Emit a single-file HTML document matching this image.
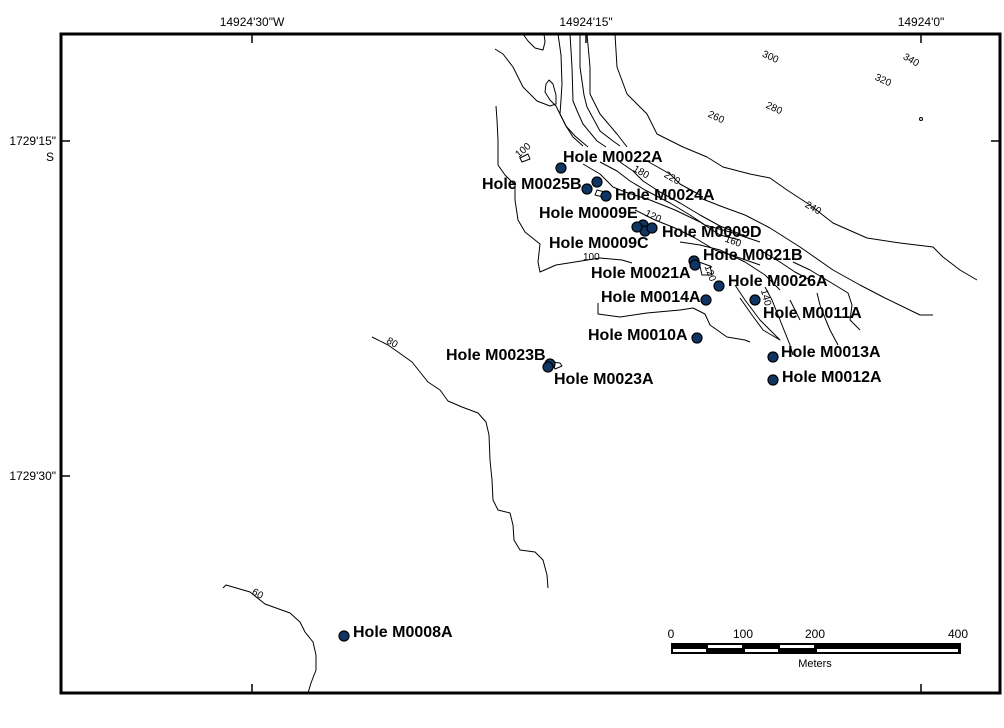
<!DOCTYPE html>
<html><head><meta charset="utf-8"><style>
html,body{margin:0;padding:0;background:#fff;}
svg{display:block;}
.ax{font-family:"Liberation Sans",sans-serif;font-size:12px;fill:#000;}
.lb{font-family:"Liberation Sans",sans-serif;font-size:16px;font-weight:bold;fill:#000;}
.cl{font-family:"Liberation Sans",sans-serif;font-size:10px;fill:#000;}
.c{fill:none;stroke:#000;stroke-width:1;stroke-linejoin:round;}
.d{fill:#0e3563;stroke:#000;stroke-width:1.2;}
</style></head><body>
<svg width="1004" height="728" viewBox="0 0 1004 728" xmlns="http://www.w3.org/2000/svg">
<rect width="1004" height="728" fill="#fff"/>
<rect x="61" y="34" width="939" height="659" fill="none" stroke="#000" stroke-width="3"/>
<line x1="252" y1="34" x2="252" y2="43" stroke="#000" stroke-width="1.5"/>
<line x1="586" y1="34" x2="586" y2="43" stroke="#000" stroke-width="1.5"/>
<line x1="921" y1="34" x2="921" y2="43" stroke="#000" stroke-width="1.5"/>
<line x1="252" y1="684" x2="252" y2="693" stroke="#000" stroke-width="1.5"/>
<line x1="921" y1="684" x2="921" y2="693" stroke="#000" stroke-width="1.5"/>
<line x1="61" y1="141" x2="70" y2="141" stroke="#000" stroke-width="1.5"/>
<line x1="61" y1="476" x2="70" y2="476" stroke="#000" stroke-width="1.5"/>
<line x1="991" y1="141" x2="1000" y2="141" stroke="#000" stroke-width="1.5"/>
<text class="ax" x="252" y="26" text-anchor="middle">14924'30"W</text>
<text class="ax" x="586" y="26" text-anchor="middle">14924'15"</text>
<text class="ax" x="921" y="26" text-anchor="middle">14924'0"</text>
<text class="ax" x="56" y="145" text-anchor="end">1729'15"</text>
<text class="ax" x="54" y="161" text-anchor="end">S</text>
<text class="ax" x="56" y="480" text-anchor="end">1729'30"</text>

<!-- contours -->
<polyline class="c" points="372,337 388,345 398,352 412,362 420,372 428,382 440,390 448,401 462,407 478,413 486,422 489,435 490,460 492,480 493,500 498,510 510,513 513,525 514,540 520,550 535,552 543,560 547,575 548,588"/>
<polyline class="c" points="223,588 226,585 250,592 265,604 290,613 300,622 305,632 313,642 316,655 316,670 311,683 308,693"/>
<!-- 100 left -->
<polyline class="c" points="496,106 497,120 498,140 498,165 505,175 515,185 515,200 518,220 525,232 540,244 538,262 540,272 556,265 575,262 600,258 622,260 632,263"/>
<!-- top U -->
<polyline class="c" points="523,34 528,41 535,48 543,50 545,42 544,34"/>
<!-- outer curve with notch -->
<polyline class="c" points="495,49 503,54 513,67 523,87 537,101 550,106 556,104 556,95 553,84 549,80 546,84 545,92 550,100 556,106 560,114 566,126 573,137 583,146"/>
<polyline class="c" points="558,34 561,55 562,84 561,100 560,114 566,126 575,136 588,147"/>
<polyline class="c" points="570,34 572,67 573,101 578,113 583,124 597,141 606,147"/>
<polyline class="c" points="580,34 580,67 584,95 587,107 600,131 613,141 620,146"/>
<polyline class="c" points="587,34 590,67 590,94 600,114 617,134 627,147"/>
<!-- 240 -->
<polyline class="c" points="615,34 617,67 627,94 647,114 657,134 683,147 707,157 723,167 750,174 770,178 787,190 810,205 833,223 867,238 900,243 933,247 943,257 960,270 977,280"/>
<!-- lower steep lines -->
<polyline class="c" points="583,164 600,174 613,187 625,192 650,200 675,210 700,222 720,235 740,240"/>
<polyline class="c" points="600,162 617,171 630,181 645,190 670,203 690,215 705,225 730,232 760,242"/>
<polyline class="c" points="620,162 633,171 643,181 660,192 680,203 700,215 720,226 745,236"/>
<polyline class="c" points="647,161 670,174 680,184 700,195"/>
<polyline class="c" points="635,210 655,220 675,228 695,238 715,250 740,258 760,265"/>
<polyline class="c" points="680,242 700,245 720,250 745,262 765,275 780,290"/>
<!-- 220 -->
<polyline class="c" points="700,198 723,207 745,215 770,228 800,247 833,270 860,285 883,297 920,315 933,315"/>
<!-- lower 100 -->
<polyline class="c" points="598,303 598,314 620,317 647,313 680,310 693,308 705,314 710,325 727,337 745,340 750,342"/>
<!-- lines near 26A/11A -->
<polyline class="c" points="735,285 745,300 760,320 770,330 780,340 763,330 752,315 740,298"/>
<polyline class="c" points="765,287 772,300 780,320 790,345 793,355"/>
<polyline class="c" points="790,300 795,310 800,320"/>
<polyline class="c" points="817,293 820,305 825,318 830,330 838,345"/>
<polyline class="c" points="793,262 810,270 830,282 848,293 852,305 850,320 860,330"/>
<polyline class="c" points="760,250 780,262 795,272 810,280"/>
<!-- small features -->
<polygon class="c" points="520,158 528,154 530,159 522,162"/>
<polygon class="c" points="597,190 605,192 603,197 595,195"/>
<polygon class="c" points="552,362 560,363 562,366 555,369"/>
<polygon class="c" points="699,262 710,266 712,275 702,275"/>
<circle cx="921" cy="119" r="1.5" class="c"/>

<g class="cl">
<text x="762" y="62" transform="rotate(25 775 58)">300</text>
<text x="875" y="84" transform="rotate(25 885 80)">320</text>
<text x="903" y="64" transform="rotate(30 913 60)">340</text>
<text x="766" y="112" transform="rotate(25 776 108)">280</text>
<text x="708" y="121" transform="rotate(25 718 117)">260</text>
<text x="664" y="182" transform="rotate(30 674 178)">220</text>
<text x="633" y="176" transform="rotate(30 643 172)">180</text>
<text x="645" y="220" transform="rotate(25 655 216)">120</text>
<text x="725" y="245" transform="rotate(20 735 241)">160</text>
<text x="805" y="212" transform="rotate(30 815 208)">240</text>
<text x="515" y="152" transform="rotate(-40 525 150)">100</text>
<text x="583" y="260">100</text>
<text x="761" y="298" transform="rotate(75 766 294)">140</text>
<text x="704" y="273" transform="rotate(70 709 270)">120</text>
<text x="387" y="346" transform="rotate(30 393 342)">80</text>
<text x="252" y="597" transform="rotate(30 258 594)">60</text>
</g>

<g>
<circle class="d" cx="561" cy="168" r="5"/>
<circle class="d" cx="597" cy="182" r="5"/>
<circle class="d" cx="587" cy="189" r="5"/>
<circle class="d" cx="606" cy="196" r="5"/>
<circle class="d" cx="643" cy="225" r="5"/>
<circle class="d" cx="645" cy="231" r="5"/>
<circle class="d" cx="637" cy="227" r="5"/>
<circle class="d" cx="652" cy="228" r="5"/>
<circle class="d" cx="694" cy="261" r="5"/>
<circle class="d" cx="695" cy="265" r="5"/>
<circle class="d" cx="719" cy="286" r="5"/>
<circle class="d" cx="706" cy="300" r="5"/>
<circle class="d" cx="755" cy="300" r="5"/>
<circle class="d" cx="697" cy="338" r="5"/>
<circle class="d" cx="773" cy="357" r="5"/>
<circle class="d" cx="773" cy="380" r="5"/>
<circle class="d" cx="550" cy="364" r="5"/>
<circle class="d" cx="548" cy="367" r="5"/>
<circle class="d" cx="344" cy="636" r="5"/>
</g>

<g class="lb">
<text x="563" y="162">Hole M0022A</text>
<text x="482" y="189">Hole M0025B</text>
<text x="615" y="200">Hole M0024A</text>
<text x="539" y="218">Hole M0009E</text>
<text x="662" y="237">Hole M0009D</text>
<text x="549" y="248">Hole M0009C</text>
<text x="703" y="260">Hole M0021B</text>
<text x="591" y="278">Hole M0021A</text>
<text x="728" y="286">Hole M0026A</text>
<text x="601" y="302">Hole M0014A</text>
<text x="763" y="318">Hole M0011A</text>
<text x="588" y="340">Hole M0010A</text>
<text x="781" y="357">Hole M0013A</text>
<text x="782" y="382">Hole M0012A</text>
<text x="446" y="360">Hole M0023B</text>
<text x="554" y="384">Hole M0023A</text>
<text x="353" y="637">Hole M0008A</text>
</g>

<rect x="671" y="643" width="290" height="11" fill="#000"/>
<rect x="708" y="645" width="34" height="3" fill="#fff"/>
<rect x="780" y="645" width="34" height="3" fill="#fff"/>
<rect x="673" y="649" width="33" height="3" fill="#fff"/>
<rect x="745" y="649" width="33" height="3" fill="#fff"/>
<rect x="817" y="649" width="141" height="3" fill="#fff"/>
<g class="ax">
<text x="671" y="638" text-anchor="middle">0</text>
<text x="743" y="638" text-anchor="middle">100</text>
<text x="815" y="638" text-anchor="middle">200</text>
<text x="958" y="638" text-anchor="middle">400</text>
<text x="815" y="667" text-anchor="middle" font-size="11">Meters</text>
</g>
</svg>
</body></html>
